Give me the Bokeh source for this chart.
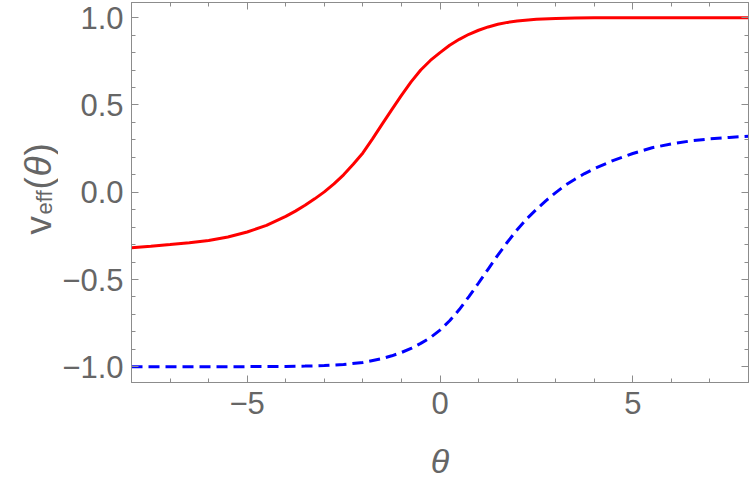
import math
from bokeh.plotting import figure
from bokeh.models import LinearAxis, FixedTicker, CustomJSTickFormatter, Range1d
from bokeh.layouts import row
from bokeh.core.properties import value
from bokeh.embed import file_html
from bokeh.resources import INLINE

# ---- data ----
theta_red = [-8, -7.5, -7, -6.5, -6, -5.5, -5, -4.5, -4, -3.75, -3.5, -3.25, -3, -2.75, -2.5,
             -2.25, -2, -1.75, -1.5, -1.25, -1, -0.75, -0.5, -0.25, 0, 0.25, 0.5, 0.75, 1,
             1.25, 1.5, 1.75, 2, 2.5, 3, 3.5, 4, 4.5, 5, 5.5, 6, 6.5, 7, 7.5, 8]
v_red = [-0.318, -0.310, -0.300, -0.289, -0.276, -0.256, -0.228, -0.190, -0.138, -0.108,
         -0.075, -0.038, 0.002, 0.048, 0.100, 0.160, 0.225, 0.306, 0.390, 0.473, 0.555,
         0.632, 0.700, 0.755, 0.800, 0.842, 0.876, 0.905, 0.928, 0.947, 0.962, 0.973,
         0.981, 0.991, 0.996, 0.998, 0.999, 1.0, 1.0, 1.0, 1.0, 1.0, 1.0, 1.0, 1.0]

theta_blue = [-8, -7.5, -7, -6.5, -6, -5.5, -5, -4.5, -4, -3.5, -3, -2.5, -2, -1.5, -1.25,
              -1, -0.75, -0.5, -0.25, 0, 0.25, 0.5, 0.75, 1, 1.25, 1.5, 1.75, 2, 2.25, 2.5,
              2.75, 3, 3.25, 3.5, 3.75, 4, 4.5, 5, 5.5, 6, 6.5, 7, 7.5, 8]
v_blue = [-1.0, -1.0, -1.0, -1.0, -1.0, -1.0, -0.999, -0.999, -0.998, -0.996, -0.993,
          -0.987, -0.975, -0.953, -0.937, -0.918, -0.895, -0.866, -0.833, -0.790, -0.736,
          -0.672, -0.598, -0.520, -0.440, -0.360, -0.285, -0.215, -0.152, -0.098, -0.048,
          -0.002, 0.040, 0.075, 0.107, 0.135, 0.183, 0.222, 0.255, 0.277, 0.294, 0.306,
          0.314, 0.321]

x_ticks = [-5, 0, 5]
x_tick_labels = ["\u22125", "0", "5"]
x_minor = [-8, -7, -6, -4, -3, -2, -1, 1, 2, 3, 4, 6, 7, 8]
y_ticks = [-1.0, -0.5, 0.0, 0.5, 1.0]
y_tick_labels = ["\u22121.0", "\u22120.5", "0.0", "0.5", "1.0"]
y_minor = [-0.9, -0.8, -0.7, -0.6, -0.4, -0.3, -0.2, -0.1, 0.1, 0.2, 0.3, 0.4, 0.6, 0.7, 0.8, 0.9]

# ---- layout ----
W, H = 750, 488
LW = 58                      # width of the strip holding the rotated y label
FL, FR, FT, FB = 131, 748, 2, 382
X0, X1 = -8, 8
Y0, Y1 = -1.09, 1.087

GRAY_AX = "#8c8c8c"
GRAY_TX = "#666666"
FONT = "Liberation Sans"

p = figure(width=W - LW, height=H, x_range=(X0, X1), y_range=(Y0, Y1),
           output_backend="svg", toolbar_location=None,
           min_border_left=FL - LW, min_border_right=W - FR,
           min_border_top=FT, min_border_bottom=H - FB)
p.xgrid.visible = False
p.ygrid.visible = False
p.outline_line_color = GRAY_AX
p.background_fill_color = "white"
p.border_fill_color = "white"


def style_axis(ax, ticks, minor, labels, show_labels):
    ax.ticker = FixedTicker(ticks=ticks, minor_ticks=minor)
    ax.axis_line_color = GRAY_AX
    ax.major_tick_line_color = GRAY_AX
    ax.minor_tick_line_color = GRAY_AX
    ax.major_tick_in = 7
    ax.major_tick_out = 0
    ax.minor_tick_in = 4
    ax.minor_tick_out = 0
    if show_labels:
        ax.major_label_overrides = dict(zip(ticks, labels))
        ax.major_label_text_font = FONT
        ax.major_label_text_font_size = "31px"
        ax.major_label_text_color = GRAY_TX
    else:
        ax.formatter = CustomJSTickFormatter(code="return ''")
        ax.major_label_text_font_size = "0px"
        ax.major_label_standoff = 0


style_axis(p.xaxis[0], x_ticks, x_minor, x_tick_labels, True)
style_axis(p.yaxis[0], y_ticks, y_minor, y_tick_labels, True)
p.xaxis[0].major_label_standoff = 9
p.yaxis[0].major_label_standoff = 8

p.xaxis[0].axis_label = "\u03b8"
p.xaxis[0].axis_label_text_font = FONT
p.xaxis[0].axis_label_text_font_style = "italic"
p.xaxis[0].axis_label_text_font_size = "34px"
p.xaxis[0].axis_label_text_color = GRAY_TX
p.xaxis[0].axis_label_standoff = 25

top_ax = LinearAxis()
right_ax = LinearAxis()
style_axis(top_ax, x_ticks, x_minor, None, False)
style_axis(right_ax, y_ticks, y_minor, None, False)
p.add_layout(top_ax, "above")
p.add_layout(right_ax, "right")

# ---- curves ----
p.line(theta_red, v_red, line_color="#ff0000", line_width=3)
p.line(theta_blue, v_blue, line_color="#0000ff", line_width=3, line_dash="11 6")

# ---- y axis label v_eff(theta), rotated, in a narrow strip at the left ----
lf = figure(width=LW, height=H, x_range=Range1d(0, LW), y_range=Range1d(FB, FT),
            output_backend="svg", toolbar_location=None,
            x_axis_location=None, y_axis_location=None,
            min_border_left=0, min_border_right=0,
            min_border_top=FT, min_border_bottom=H - FB)
lf.xgrid.visible = False
lf.ygrid.visible = False
lf.outline_line_color = None
lf.background_fill_color = "white"
lf.border_fill_color = "white"

base_x = 38
parts = [
    ("v", 234, 0, "37px", "normal"),
    ("eff", 214, 6, "22px", "normal"),
    ("(", 189, 0, "37px", "normal"),
    ("\u03b8", 176, 0, "37px", "italic"),
    (")", 155, 0, "37px", "normal"),
]
for txt, py, shift, size, style in parts:
    lf.text(x=[base_x + shift], y=[py], text=[txt], angle=math.pi / 2,
            text_align="left", text_baseline="alphabetic",
            text_font=value(FONT), text_font_size=value(size),
            text_font_style=style, text_color=GRAY_TX)

layout = row(lf, p, spacing=0)
open("out.html", "w").write(file_html(layout, INLINE))
